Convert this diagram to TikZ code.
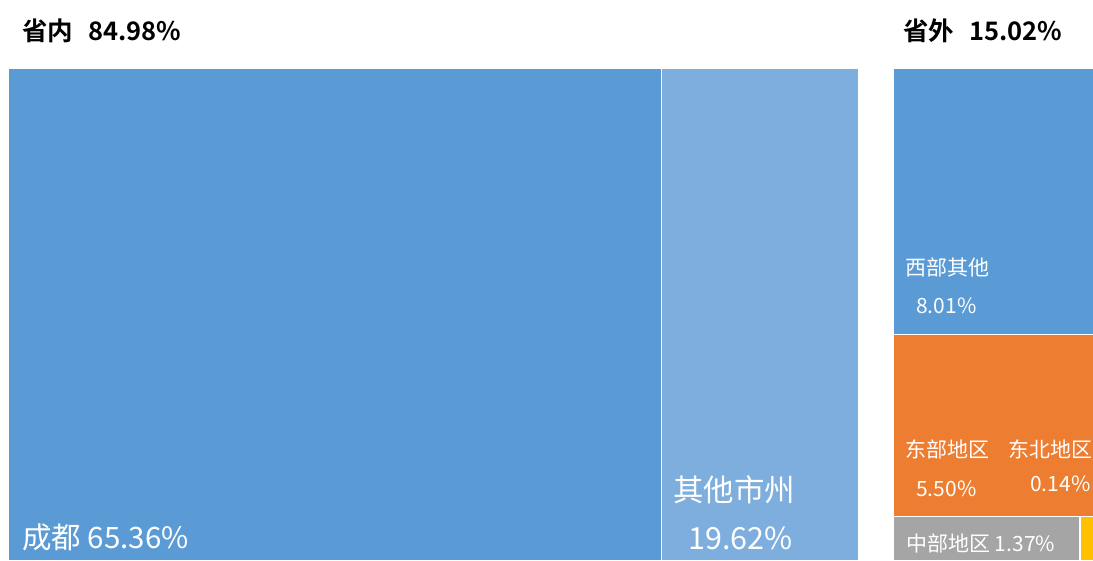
\documentclass[tikz,border=0pt]{standalone}
\usepackage{fontspec}
\newfontfamily\cjk{Noto Sans CJK SC}[BoldFont={Noto Sans CJK SC Bold}]
\definecolor{cdblue}{HTML}{5B9BD5}
\definecolor{ltblue}{HTML}{7EAEDD}
\definecolor{orng}{HTML}{ED7D31}
\definecolor{gry}{HTML}{A5A5A5}
\definecolor{yel}{HTML}{FFC000}
\begin{document}
\begin{tikzpicture}[x=1pt,y=-1pt,
  title/.style={anchor=base west,inner sep=0pt,text=black,font=\cjk\bfseries\fontsize{25.5}{29}\selectfont},
  lbl/.style={anchor=base west,inner sep=0pt,text=white,font=\cjk\fontsize{21}{25}\selectfont},
  biglbl/.style={anchor=base west,inner sep=0pt,text=white,font=\cjk\fontsize{29.5}{34}\selectfont},
  hugelbl/.style={anchor=base west,inner sep=0pt,text=white,font=\cjk\fontsize{30.5}{35}\selectfont}]
\useasboundingbox (0,0) rectangle (1093,560);
\fill[white] (0,0) rectangle (1093,560);
% cells
\fill[cdblue] (9,69) rectangle (661,560);
\fill[ltblue] (662,69) rectangle (858,560);
\fill[cdblue] (894,69) rectangle (1093,333.5);
\fill[orng] (894,335) rectangle (1093,515.5);
\fill[gry] (894,517) rectangle (1079,560);
\fill[yel] (1080.5,517) rectangle (1093,560);
\draw[white,line width=1pt] (661.5,69) -- (661.5,560);
% titles
\node[title] (t1) at (22,40) {省内\hspace{0.6em}84.98\%};
\node[title] (t2) at (903,40) {省外\hspace{0.6em}15.02\%};
% labels
\node[biglbl] (cd) at (22,548) {成都 65.36\%};
\node[hugelbl] (qt1) at (673,501) {其他市州};
\node[hugelbl] (qt2) at (688,549) {19.62\%};
\node[lbl] (xb1) at (905,275) {西部其他};
\node[lbl] (xb2) at (916,313) {8.01\%};
\node[lbl] (db1) at (905,457) {东部地区};
\node[lbl] (db2) at (916,496) {5.50\%};
\node[lbl] (dbb1) at (1008,457) {东北地区};
\node[lbl] (dbb2) at (1030,491) {0.14\%};
\node[lbl] (zb) at (906,551) {中部地区 1.37\%};
\end{tikzpicture}
\end{document}
